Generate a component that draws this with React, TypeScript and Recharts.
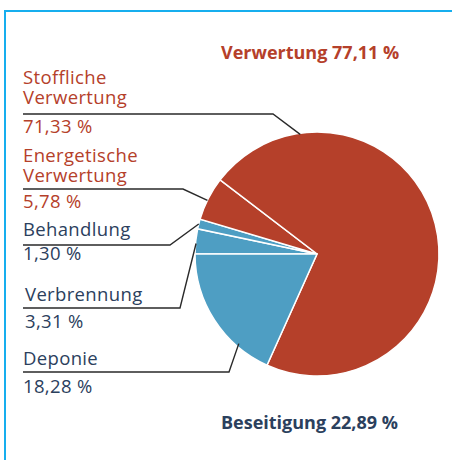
import { PieChart, Pie, Cell } from "recharts";

// slices clockwise from 9 o'clock
const names = ["Verbrennung", "Behandlung", "Energetische Verwertung", "Stoffliche Verwertung", "Deponie"];
const shares = [3.31, 1.3, 5.78, 71.33, 18.28];
const groups = ["Beseitigung", "Beseitigung", "Verwertung", "Verwertung", "Beseitigung"];
const groupOrder = ["Verwertung", "Beseitigung"];

const RED = "#b5402a";
const BLUE = "#4e9ec3";
const RED_TEXT = "#b5402a";
const BLUE_TEXT = "#2b405d";
const FRAME = "#16aeee";
const FONT = "'Open Sans', 'Noto Sans', sans-serif";

const W = 452;
const H = 460;

// label placement (first name baseline, leader line elbow, where the pointer hits the pie)
const labelLayout = [
  { textX: 25, nameY: 301, lineY: 308, valueY: 328, elbowX: 180, shift: 1, reach: 0.995 },
  { textX: 23, nameY: 236, lineY: 245, valueY: 260, elbowX: 170, shift: 0, reach: 1.0 },
  { textX: 23, nameY: 162, lineY: 189, valueY: 208, elbowX: 183, shift: 0.9, reach: 1.0 },
  { textX: 23, nameY: 84, lineY: 114, valueY: 133, elbowX: 273, shift: 83.8, reach: 0.99 },
  { textX: 23, nameY: 365, lineY: 372, valueY: 393, elbowX: 229, shift: 16, reach: 0.975 },
];
const LINE_X = 23;
const LINE_H = 20;

const data = names.map((name, i) => ({ name, value: shares[i], group: groups[i] }));

const fmt = (v: number) => v.toFixed(2).replace(".", ",") + " %";

const RAD = Math.PI / 180;

const labelText = { fontSize: 18.5, fontFamily: FONT, letterSpacing: 0.35 };

function SliceLabel(p: any) {
  const L = labelLayout[p.index];
  const a = (p.midAngle + L.shift) * RAD;
  const r = p.outerRadius * L.reach;
  const ax = p.cx + r * Math.cos(a);
  const ay = p.cy - r * Math.sin(a);
  const color = groups[p.index] === "Verwertung" ? RED_TEXT : BLUE_TEXT;
  const lines = names[p.index].split(" ");
  return (
    <g>
      <polyline
        points={`${LINE_X},${L.lineY} ${L.elbowX},${L.lineY} ${ax},${ay}`}
        fill="none"
        stroke="#2a2a2a"
        strokeWidth={1.4}
      />
      {lines.map((t, i) => (
        <text key={i} x={L.textX} y={L.nameY + i * LINE_H} fill={color} style={labelText}>
          {t}
        </text>
      ))}
      <text x={L.textX} y={L.valueY} fill={color} style={labelText}>
        {fmt(shares[p.index])}
      </text>
    </g>
  );
}

const totals = groupOrder.map((g) =>
  shares.reduce((s, v, i) => (groups[i] === g ? s + v : s), 0)
);

export default function App() {
  return (
    <div style={{ position: "relative", width: W, height: H, background: "#fff" }}>
      <style>{`body{margin:0}`}</style>
      <PieChart width={W} height={H} margin={{ top: 0, right: 0, bottom: 0, left: 0 }}>
        <Pie
          data={data}
          dataKey="value"
          nameKey="name"
          cx={317}
          cy={254}
          outerRadius={122}
          startAngle={180}
          endAngle={-180}
          stroke="#fff"
          strokeWidth={1.5}
          label={SliceLabel}
          labelLine={false}
          isAnimationActive={false}
        >
          {data.map((d, i) => (
            <Cell key={i} fill={d.group === "Verwertung" ? RED : BLUE} />
          ))}
        </Pie>
      </PieChart>
      <svg
        width={W}
        height={H}
        style={{ position: "absolute", left: 0, top: 0, pointerEvents: "none" }}
      >
        <rect x={4} y={10} width={W - 4} height={2} fill={FRAME} />
        <rect x={4} y={10} width={2} height={H - 10} fill={FRAME} />
        <text x={221} y={59} fill={RED_TEXT} fontSize={18} fontWeight={700} fontFamily={FONT}>
          {`${groupOrder[0]} ${fmt(totals[0])}`}
        </text>
        <text x={221} y={429} fill={BLUE_TEXT} fontSize={18} fontWeight={700} fontFamily={FONT}>
          {`${groupOrder[1]} ${fmt(totals[1])}`}
        </text>
      </svg>
    </div>
  );
}
